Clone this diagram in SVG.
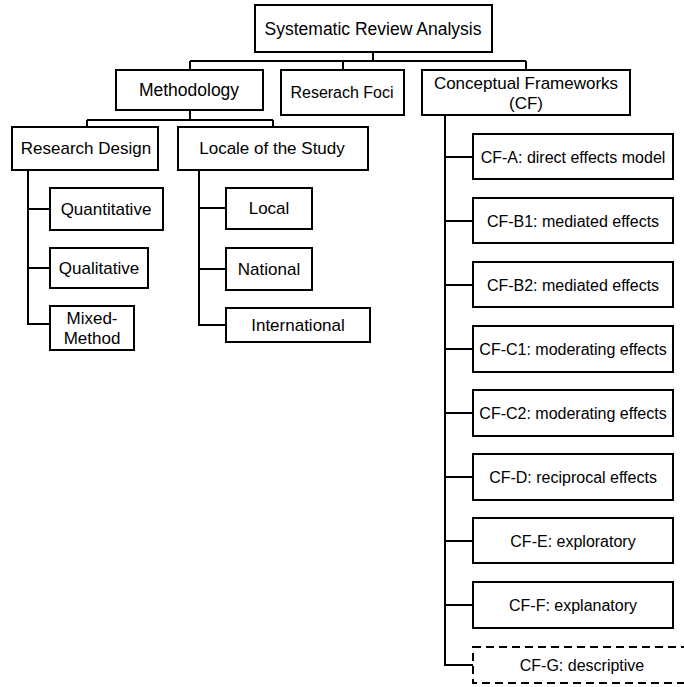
<svg xmlns="http://www.w3.org/2000/svg" width="684" height="687" viewBox="0 0 684 687">
<style>
.b{fill:#fff;stroke:#000;stroke-width:2}
.d{fill:#fff;stroke:#000;stroke-width:2;stroke-dasharray:8,5}
.t{font-family:"Liberation Sans",Arial,sans-serif;font-size:17px;fill:#000;text-anchor:middle;dominant-baseline:central}
.s{font-size:16px}
.c{fill:none;stroke:#000;stroke-width:2}
</style>
<rect width="684" height="687" fill="#fff"/>
<g id="connectors">
<path class="c" d="M373,52V61M190,61H526M190,61V70M343,61V70M526,61V70"/>
<path class="c" d="M190,110V120M87,120H273M87,120V127M273,120V127"/>
<path class="c" d="M28,170V324H50M28,209H50M28,268H50"/>
<path class="c" d="M199,170V325H226M199,208H226M199,269H226"/>
<path class="c" d="M445,115V665H473M445,157H473M445,221H473M445,285H473M445,349H473M445,413H473M445,477H473M445,541H473M445,605H473"/>
</g>
<g id="root"><rect class="b" x="255" y="5" width="237" height="47"/><text class="t" x="373" y="29" style="font-size:17.5px">Systematic Review Analysis</text></g>
<g id="methodology"><rect class="b" x="116" y="70" width="147" height="40"/><text class="t" x="189" y="90" style="font-size:17.5px">Methodology</text></g>
<g id="foci"><rect class="b" x="281" y="70" width="123" height="45"/><text class="t s" x="342" y="92">Reserach Foci</text></g>
<g id="cf"><rect class="b" x="422" y="70" width="208" height="45"/><text class="t" x="526" y="83">Conceptual Frameworks</text><text class="t" x="526" y="103">(CF)</text></g>
<g id="design"><rect class="b" x="12" y="127" width="146" height="43"/><text class="t" x="86" y="148">Research Design</text></g>
<g id="locale"><rect class="b" x="178" y="127" width="190" height="43"/><text class="t" x="272" y="148">Locale of the Study</text></g>
<g id="quant"><rect class="b" x="50" y="188" width="113" height="42"/><text class="t" x="106" y="209">Quantitative</text></g>
<g id="qual"><rect class="b" x="50" y="248" width="98" height="40"/><text class="t" x="99" y="268">Qualitative</text></g>
<g id="mixed"><rect class="b" x="50" y="306" width="84" height="44"/><text class="t" x="92" y="318">Mixed-</text><text class="t" x="92" y="338">Method</text></g>
<g id="local"><rect class="b" x="226" y="188" width="86" height="41"/><text class="t" x="269" y="208">Local</text></g>
<g id="national"><rect class="b" x="226" y="248" width="86" height="42"/><text class="t" x="269" y="269">National</text></g>
<g id="international"><rect class="b" x="226" y="308" width="144" height="34"/><text class="t" x="298" y="325">International</text></g>
<g id="cfa"><rect class="b" x="473" y="134" width="200" height="45"/><text class="t s" x="573" y="157">CF-A: direct effects model</text></g>
<g id="cfb1"><rect class="b" x="473" y="198" width="200" height="45"/><text class="t s" x="573" y="221">CF-B1: mediated effects</text></g>
<g id="cfb2"><rect class="b" x="473" y="262" width="200" height="45"/><text class="t s" x="573" y="285">CF-B2: mediated effects</text></g>
<g id="cfc1"><rect class="b" x="473" y="326" width="200" height="46"/><text class="t s" x="573" y="349">CF-C1: moderating effects</text></g>
<g id="cfc2"><rect class="b" x="473" y="390" width="200" height="46"/><text class="t s" x="573" y="413">CF-C2: moderating effects</text></g>
<g id="cfd"><rect class="b" x="473" y="454" width="200" height="46"/><text class="t s" x="573" y="477">CF-D: reciprocal effects</text></g>
<g id="cfe"><rect class="b" x="473" y="518" width="200" height="45"/><text class="t s" x="573" y="541">CF-E: exploratory</text></g>
<g id="cff"><rect class="b" x="473" y="582" width="200" height="46"/><text class="t s" x="573" y="605">CF-F: explanatory</text></g>
<g id="cfg"><rect class="d" x="473" y="647" width="218" height="36"/><text class="t s" x="582" y="665">CF-G: descriptive</text></g>
</svg>
